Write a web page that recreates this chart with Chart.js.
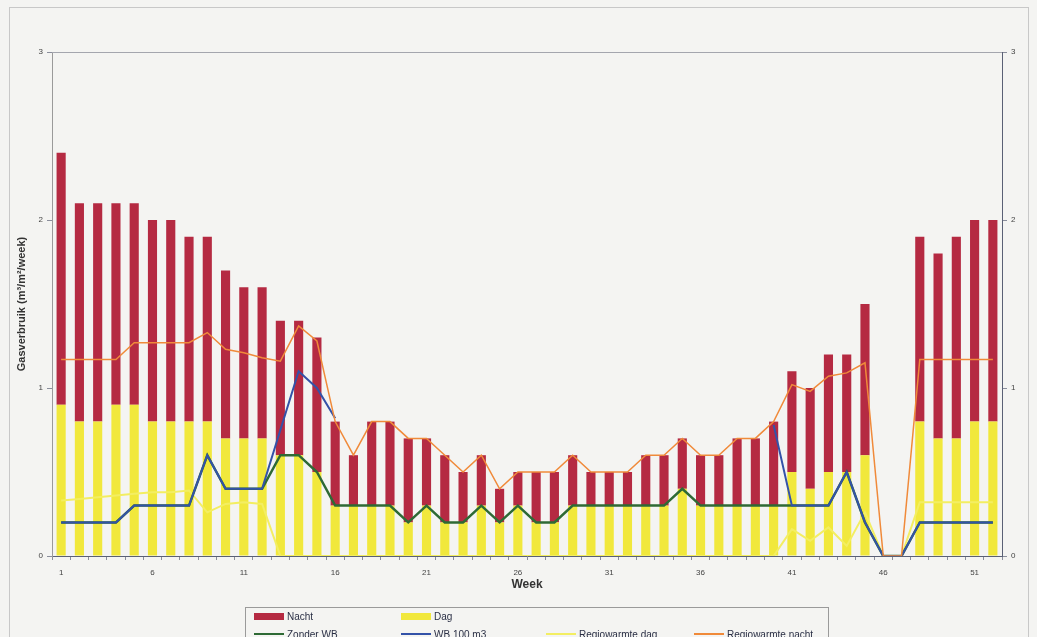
<!DOCTYPE html>
<html>
<head>
<meta charset="utf-8">
<script src="https://cdn.jsdelivr.net/npm/chart.js@4"></script>
<style>
  html, body { margin: 0; padding: 0; background: #f4f4f2; }
  #wrap { position: relative; width: 1037px; height: 637px; overflow: hidden; }
  #frame { position: absolute; left: 9px; top: 7px; width: 1018px; height: 660px; border: 1px solid #c8c8c8; }
  #legend { position: absolute; left: 245px; top: 607px; width: 582px; height: 50px; border: 1px solid #9a9a9a;
            font: 10px "Liberation Sans", Arial, sans-serif; color: #2a2f45; }
  .item { position: absolute; display: flex; align-items: center; white-space: nowrap; height: 12px; }
  .sw { width: 30px; margin-right: 3px; }
</style>
</head>
<body>
<div id="wrap">
  <div id="frame"></div>
  <canvas id="chart"></canvas>
  <div id="legend"></div>
</div>
<script>
const weeks = ['1','2','3','4','5','6','7','8','9','10','11','12','13','14','15','16','17','18','19','20',
  '21','22','23','24','25','26','27','28','29','30','31','32','33','34','35','36','37','38','39','40',
  '41','42','43','44','45','46','47','48','49','50','51','52'];

const dag = [0.9,0.8,0.8,0.9,0.9,0.8,0.8,0.8,0.8,0.7,0.7,0.7,0.6,0.6,0.5,
  0.3,0.3,0.3,0.3,0.2,0.3,0.2,0.2,0.3,0.2,0.3,0.2,0.2,0.3,0.3,0.3,0.3,0.3,0.3,0.4,0.3,0.3,0.3,0.3,0.3,
  0.5,0.4,0.5,0.5,0.6,0,0,0.8,0.7,0.7,0.8,0.8];

const nacht = [1.5,1.3,1.3,1.2,1.2,1.2,1.2,1.1,1.1,1.0,0.9,0.9,0.8,0.8,0.8,
  0.5,0.3,0.5,0.5,0.5,0.4,0.4,0.3,0.3,0.2,0.2,0.3,0.3,0.3,0.2,0.2,0.2,0.3,0.3,0.3,0.3,0.3,0.4,0.4,0.5,
  0.6,0.6,0.7,0.7,0.9,0,0,1.1,1.1,1.2,1.2,1.2];

const zonderWB = [0.2,0.2,0.2,0.2,0.3,0.3,0.3,0.3,0.6,0.4,0.4,0.4,0.6,0.6,0.5,
  0.3,0.3,0.3,0.3,0.2,0.3,0.2,0.2,0.3,0.2,0.3,0.2,0.2,0.3,0.3,0.3,0.3,0.3,0.3,0.4,0.3,0.3,0.3,0.3,0.3,
  0.3,0.3,0.3,0.5,0.2,0,0,0.2,0.2,0.2,0.2,0.2];

const wb100 = [0.2,0.2,0.2,0.2,0.3,0.3,0.3,0.3,0.6,0.4,0.4,0.4,0.75,1.1,1.0,
  0.82,null,null,null,null,null,null,null,null,null,null,null,null,null,null,null,null,null,null,null,null,null,null,null,0.78,
  0.3,0.3,0.3,0.5,0.2,0,0,0.2,0.2,0.2,0.2,0.2];

const regioDag = [0.33,0.34,0.35,0.36,0.37,0.38,0.38,0.39,0.26,0.31,0.32,0.31,0,0,0,
  0,0,0,0,0,0,0,0,0,0,0,0,0,0,0,0,0,0,0,0,0,0,0,0,0,
  0.16,0.09,0.17,0.06,0.26,0,0,0.32,0.32,0.32,0.32,0.32];

const regioNacht = [1.17,1.17,1.17,1.17,1.27,1.27,1.27,1.27,1.33,1.23,1.21,1.18,1.16,1.37,1.28,
  0.8,0.6,0.8,0.8,0.7,0.7,0.6,0.5,0.6,0.4,0.5,0.5,0.5,0.6,0.5,0.5,0.5,0.6,0.6,0.7,0.6,0.6,0.7,0.7,0.8,
  1.02,0.98,1.07,1.09,1.15,0,0,1.17,1.17,1.17,1.17,1.17];

const yTicks = [0, 1, 2, 3];

Chart.defaults.font.family = '"Liberation Sans", Arial, sans-serif';

const topBorder = {
  id: 'topBorder',
  beforeDatasetsDraw(chart) {
    const { ctx, chartArea } = chart;
    ctx.save();
    ctx.strokeStyle = '#a4a6ae';
    ctx.lineWidth = 1;
    ctx.beginPath();
    ctx.moveTo(chartArea.left, chartArea.top + 0.5);
    ctx.lineTo(chartArea.right, chartArea.top + 0.5);
    ctx.stroke();
    ctx.restore();
  }
};

function yAxis(pos, width, borderColor, withTitle) {
  return {
    position: pos,
    min: 0, max: 3,
    stacked: pos === 'left',
    afterBuildTicks: s => { s.ticks = yTicks.map(v => ({ value: v })); },
    afterFit: s => { s.width = width; },
    grid: { drawOnChartArea: false, drawTicks: true, tickLength: 5, color: '#8a8e9c' },
    border: { color: borderColor, width: 1 },
    ticks: { padding: 4, font: { size: 8 }, color: '#444' },
    title: withTitle ? {
      display: true, text: 'Gasverbruik (m³/m²/week)',
      font: { size: 11, weight: 'bold' }, color: '#333', padding: { top: 15, bottom: 0 }
    } : { display: false }
  };
}

const chart = new Chart(document.getElementById('chart'), {
  type: 'bar',
  data: {
    labels: weeks,
    datasets: [
      { label: 'Dag', data: dag, backgroundColor: '#f1e83c', yAxisID: 'y', order: 10,
        barPercentage: 0.5, categoryPercentage: 1 },
      { label: 'Nacht', data: nacht, backgroundColor: '#b52a42', yAxisID: 'y', order: 10,
        barPercentage: 0.5, categoryPercentage: 1 },
      { type: 'line', label: 'Regiowarmte dag', data: regioDag, borderColor: '#f3ee62', borderWidth: 2,
        pointRadius: 0, yAxisID: 'y1', order: 5 },
      { type: 'line', label: 'Zonder WB', data: zonderWB, borderColor: '#2e6a35', borderWidth: 2.5,
        pointRadius: 0, yAxisID: 'y1', order: 4 },
      { type: 'line', label: 'WB 100 m3', data: wb100, borderColor: '#3352a8', borderWidth: 2,
        pointRadius: 0, yAxisID: 'y1', order: 3 },
      { type: 'line', label: 'Regiowarmte nacht', data: regioNacht, borderColor: '#f08a3a', borderWidth: 1.5,
        pointRadius: 0, yAxisID: 'y1', order: 1 }
    ]
  },
  options: {
    responsive: true,
    maintainAspectRatio: false,
    animation: false,
    layout: { padding: { top: 52, bottom: 45, left: 0, right: 0 } },
    plugins: { legend: { display: false }, tooltip: { enabled: false } },
    scales: {
      x: {
        stacked: true,
        offset: true,
        afterFit: s => { s.height = 36; },
        grid: { offset: true, drawOnChartArea: false, drawTicks: true, tickLength: 4, color: '#8a8e9c' },
        border: { color: '#5a6075', width: 1 },
        ticks: {
          autoSkip: false, maxRotation: 0, padding: 8, font: { size: 8 }, color: '#444',
          callback: (v, i) => (i % 5 === 0 ? weeks[i] : '')
        },
        title: { display: true, text: 'Week', font: { size: 12, weight: 'bold' }, color: '#333',
                 padding: { top: 0, bottom: 0 } }
      },
      y: yAxis('left', 52, '#9a9a9a', true),
      y1: yAxis('right', 35, '#5a6075', false)
    }
  },
  plugins: [topBorder]
});

// legend built from the chart's datasets
const legendRows = [
  ['Nacht', 'Dag'],
  ['Zonder WB', 'WB 100 m3', 'Regiowarmte dag', 'Regiowarmte nacht']
];
const colX = [8, 155, 300, 448];
const rowY = [2, 20];
const legendEl = document.getElementById('legend');
legendRows.forEach((row, r) => {
  row.forEach((name, c) => {
    const ds = chart.data.datasets.find(d => d.label === name);
    const item = document.createElement('div');
    item.className = 'item';
    item.style.left = colX[c] + 'px';
    item.style.top = rowY[r] + 'px';
    const sw = document.createElement('div');
    sw.className = 'sw';
    if (ds.type === 'line') {
      sw.style.height = '2px';
      sw.style.background = ds.borderColor;
    } else {
      sw.style.height = '7px';
      sw.style.background = ds.backgroundColor;
    }
    const txt = document.createElement('span');
    txt.textContent = name;
    item.appendChild(sw);
    item.appendChild(txt);
    legendEl.appendChild(item);
  });
});
</script>
</body>
</html>
